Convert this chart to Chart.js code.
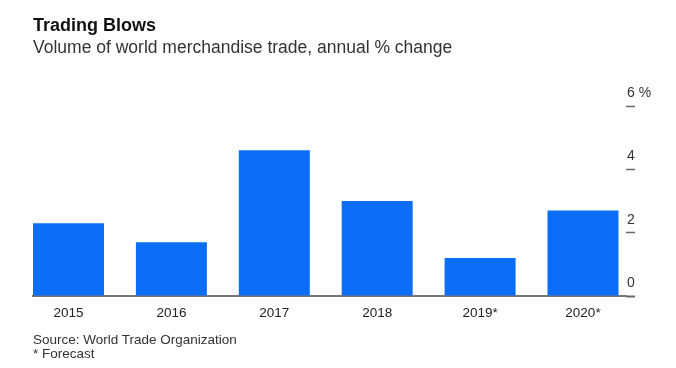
<!DOCTYPE html>
<html>
<head>
<meta charset="utf-8">
<script src="https://cdn.jsdelivr.net/npm/chart.js@4"></script>
<style>
  html, body { margin: 0; padding: 0; background: #fff; }
  body { width: 676px; height: 368px; position: relative; overflow: hidden; font-family: "Liberation Sans", Arial, sans-serif; }
  #tradeChart { position: absolute; left: 0; top: 0; }
  .title { position: absolute; left: 33px; top: 15px; font-size: 18px; font-weight: bold; color: #111; }
  .subtitle { position: absolute; left: 33px; top: 37px; font-size: 17.5px; color: #333; }
  .source { position: absolute; left: 33px; top: 333px; font-size: 13.5px; line-height: 14px; color: #333; }
</style>
</head>
<body>
<canvas id="tradeChart" width="676" height="368"></canvas>
<div class="title">Trading Blows</div>
<div class="subtitle">Volume of world merchandise trade, annual % change</div>
<div class="source">Source: World Trade Organization<br>* Forecast</div>
<script>
const years = ['2015', '2016', '2017', '2018', '2019*', '2020*'];
const tradeChange = [2.3, 1.7, 4.6, 3.0, 1.2, 2.7];
const yTicks = [0, 2, 4, 6];

const canvas = document.getElementById('tradeChart');

new Chart(canvas, {
  type: 'bar',
  data: {
    datasets: [
      {
        data: tradeChange.map((v, i) => ({ x: i, y: v })),
        backgroundColor: '#0c6ef6',
        barPercentage: 0.69,
        categoryPercentage: 1,
      },
    ],
  },
  options: {
    responsive: false,
    animation: false,
    devicePixelRatio: 1,
    layout: { padding: { left: 33, right: 10, top: 106, bottom: 42 } },
    plugins: {
      legend: { display: false },
      tooltip: { enabled: false },
    },
    scales: {
      x: {
        type: 'linear',
        offset: false,
        min: -0.345,
        max: 5.418,
        afterBuildTicks: (s) => {
          s.ticks = years.map((_, i) => ({ value: i }));
        },
        afterFit: (s) => { s.height = 30; },
        grid: { display: false },
        border: { color: '#777', width: 2 },
        ticks: {
          autoSkip: false,
          maxRotation: 0,
          padding: 1,
          color: '#222',
          font: { family: 'Liberation Sans', size: 13.5 },
          callback: (v) => years[v] ?? '',
        },
      },
      y: {
        position: 'right',
        min: 0,
        max: 6,
        afterBuildTicks: (s) => { s.ticks = yTicks.map((v) => ({ value: v })); },
        afterFit: (s) => { s.width = 40; },
        grid: {
          drawOnChartArea: false,
          drawTicks: true,
          tickLength: 9,
          tickColor: '#666',
          tickWidth: (ctx) => (ctx.tick && ctx.tick.value === 0 ? 2 : 1.5),
        },
        border: { display: false },
        ticks: {
          padding: -8,
          labelOffset: -13,
          color: '#333',
          font: { family: 'Liberation Sans', size: 14 },
          callback: (v) => (v === 6 ? '6 %' : String(v)),
        },
      },
    },
  },
});
</script>
</body>
</html>
